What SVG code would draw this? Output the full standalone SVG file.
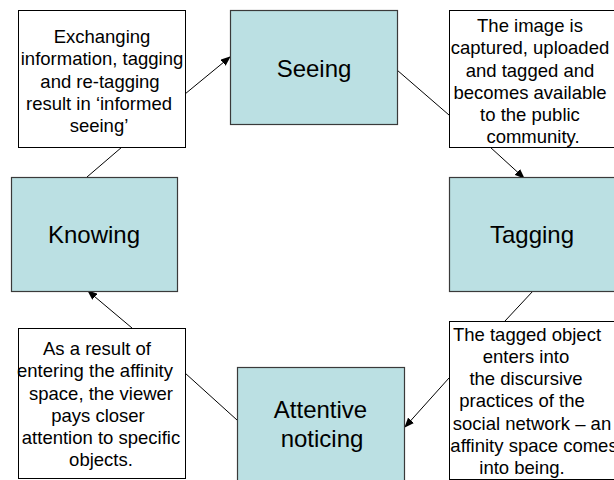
<svg xmlns="http://www.w3.org/2000/svg" width="614" height="480" viewBox="0 0 614 480">
<style>
.box{fill:#ffffff;stroke:#000000;stroke-width:1}
.step{fill:#bbe0e3;stroke:#3a3a3a;stroke-width:1.2}
.t{font-family:"Liberation Sans",Arial,sans-serif;font-size:18.5px;fill:#000;text-anchor:middle}
.big{font-family:"Liberation Sans",Arial,sans-serif;font-size:24px;fill:#000;text-anchor:middle}
.c{stroke:#000;stroke-width:1;fill:none}
</style>
<defs>
<marker id="ah" markerWidth="10" markerHeight="8" refX="9" refY="4" orient="auto" markerUnits="userSpaceOnUse">
<path d="M0,0 L10,4 L0,8 Z" fill="#000"/>
</marker>
</defs>
<rect width="614" height="480" fill="#ffffff"/>
<g id="connectors">
<line class="c" x1="185" y1="94" x2="230" y2="57" marker-end="url(#ah)"/>
<line class="c" x1="397" y1="70" x2="449" y2="115"/>
<line class="c" x1="490" y1="147" x2="524" y2="178" marker-end="url(#ah)"/>
<line class="c" x1="533" y1="291" x2="505" y2="321"/>
<line class="c" x1="449" y1="378" x2="405" y2="427" marker-end="url(#ah)"/>
<line class="c" x1="237" y1="420" x2="185" y2="373"/>
<line class="c" x1="132" y1="328" x2="88" y2="291" marker-end="url(#ah)"/>
<line class="c" x1="87" y1="177" x2="122" y2="147"/>
</g>
<g id="note-exchanging">
<rect class="box" x="18.5" y="10.5" width="167" height="137"/>
<text class="t" x="102" y="43">Exchanging</text>
<text class="t" x="102" y="65">information, tagging</text>
<text class="t" x="100" y="87.5">and re-tagging</text>
<text class="t" x="99" y="110">result in ‘informed</text>
<text class="t" x="99" y="132">seeing’</text>
</g>
<g id="seeing">
<rect class="step" x="230.5" y="10.5" width="167" height="114"/>
<text class="big" x="314" y="77">Seeing</text>
</g>
<g id="note-image">
<rect class="box" x="449.5" y="10.5" width="168" height="137"/>
<text class="t" x="530" y="32">The image is</text>
<text class="t" x="530" y="54">captured, uploaded</text>
<text class="t" x="530" y="76.5">and tagged and</text>
<text class="t" x="530" y="99">becomes available</text>
<text class="t" x="530" y="121">to the public</text>
<text class="t" x="533" y="143">community.</text>
</g>
<g id="tagging">
<rect class="step" x="449.5" y="177.5" width="170" height="114"/>
<text class="big" x="532" y="243">Tagging</text>
</g>
<g id="note-tagged">
<rect class="box" x="449.5" y="321.5" width="170" height="158"/>
<text class="t" x="527" y="341">The tagged object</text>
<text class="t" x="526" y="363">enters into</text>
<text class="t" x="526" y="385">the discursive</text>
<text class="t" x="522" y="407">practices of the</text>
<text class="t" x="532" y="429.5">social network – an</text>
<text class="t" x="534" y="451.5">affinity space comes</text>
<text class="t" x="522" y="473.5">into being.</text>
</g>
<g id="attentive-noticing">
<rect class="step" x="237.5" y="367.5" width="167" height="120"/>
<text class="big" x="320.5" y="418">Attentive</text>
<text class="big" x="322" y="447">noticing</text>
</g>
<g id="note-result">
<rect class="box" x="18.5" y="328.5" width="167" height="150"/>
<text class="t" x="97" y="355">As a result of</text>
<text class="t" x="95" y="377">entering the affinity</text>
<text class="t" x="101" y="399.5">space, the viewer</text>
<text class="t" x="98" y="422">pays closer</text>
<text class="t" x="101" y="444">attention to specific</text>
<text class="t" x="101" y="466">objects.</text>
</g>
<g id="knowing">
<rect class="step" x="11.5" y="177.5" width="166" height="114"/>
<text class="big" x="94" y="243">Knowing</text>
</g>
</svg>
